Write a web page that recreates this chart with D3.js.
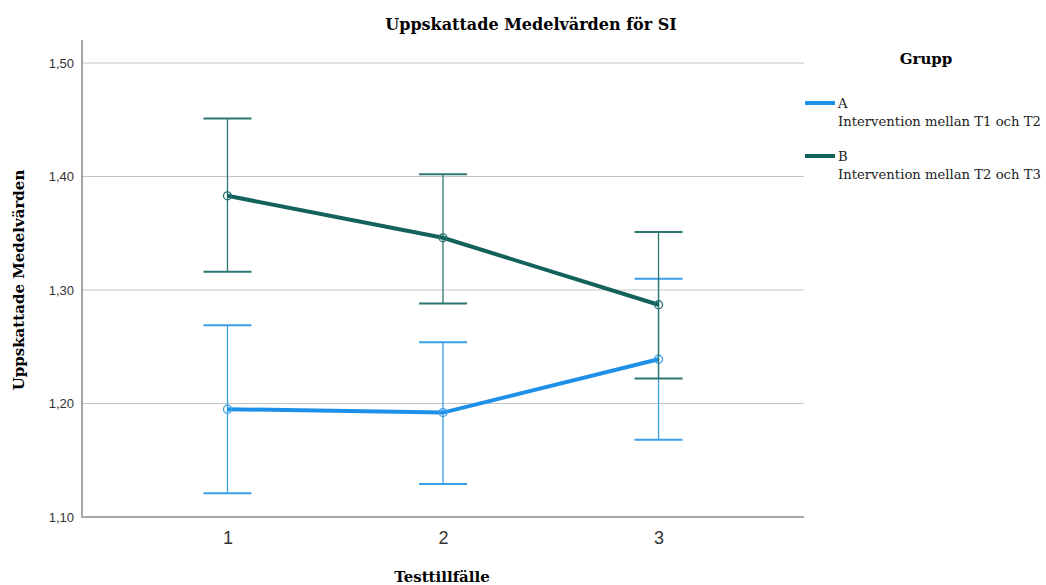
<!DOCTYPE html>
<html>
<head>
<meta charset="utf-8">
<script src="https://cdn.jsdelivr.net/npm/d3@7"></script>
<style>
  body { margin: 0; background: #fff; }
  .serif { font-family: "DejaVu Serif", "Liberation Serif", serif; }
  .tick text { font-family: "Liberation Sans", Arial, sans-serif; fill: #333; }
</style>
</head>
<body>
<div id="chart"></div>
<script>
// data
const tests = ["1", "2", "3"];
const groups = ["A", "B"];
const groupLabels = ["Intervention mellan T1 och T2", "Intervention mellan T2 och T3"];
const meanA = [1.195, 1.192, 1.239];
const lowA = [1.121, 1.129, 1.168];
const highA = [1.269, 1.254, 1.310];
const meanB = [1.383, 1.346, 1.287];
const lowB = [1.316, 1.288, 1.222];
const highB = [1.451, 1.402, 1.351];
const yTicks = [1.10, 1.20, 1.30, 1.40, 1.50];

const colors = ["#1e90e8", "#13625c"];
const barColors = ["#3a9ee8", "#2a7570"];

const width = 1046, height = 585;
const plotLeft = 82, plotRight = 804, plotTop = 40, plotBottom = 517;

const svg = d3.select("#chart").append("svg")
    .attr("width", width)
    .attr("height", height);

const x = d3.scalePoint().domain(tests).range([plotLeft, plotRight]).padding(0.675);
const y = d3.scaleLinear().domain([1.10, 1.10 + (plotBottom - plotTop) / 1135]).range([plotBottom, plotTop]);

// gridlines
svg.append("g")
    .selectAll("line")
    .data(yTicks.slice(1))
    .join("line")
    .attr("x1", plotLeft).attr("x2", plotRight)
    .attr("y1", d => y(d)).attr("y2", d => y(d))
    .attr("stroke", "#c4c4c4")
    .attr("stroke-width", 1);

// y axis
const yAxis = svg.append("g")
    .attr("transform", "translate(" + plotLeft + ",0)")
    .call(d3.axisLeft(y).tickValues(yTicks).tickSize(0).tickPadding(8)
        .tickFormat(d => d3.format(".2f")(d).replace(".", ",")));
yAxis.select(".domain").remove();
yAxis.selectAll("text").style("font-size", "13px");

// x axis
const xAxis = svg.append("g")
    .attr("transform", "translate(0," + plotBottom + ")")
    .call(d3.axisBottom(x).tickSize(0).tickPadding(14));
xAxis.select(".domain").remove();
xAxis.selectAll("text").style("font-size", "18px").attr("fill", "#555");

// axis lines
svg.append("line")
    .attr("x1", plotLeft).attr("x2", plotLeft).attr("y1", plotTop).attr("y2", plotBottom + 1)
    .attr("stroke", "#a6a6a6").attr("stroke-width", 2);
svg.append("line")
    .attr("x1", plotLeft).attr("x2", plotRight).attr("y1", plotBottom).attr("y2", plotBottom)
    .attr("stroke", "#a6a6a6").attr("stroke-width", 2);

const series = [
    { mean: meanA, low: lowA, high: highA },
    { mean: meanB, low: lowB, high: highB }
];

const line = d3.line().x((d, i) => x(tests[i])).y(d => y(d));

series.forEach((s, gi) => {
    const g = svg.append("g");
    // error bars
    tests.forEach((t, i) => {
        g.append("line")
            .attr("x1", x(t)).attr("x2", x(t))
            .attr("y1", y(s.low[i])).attr("y2", y(s.high[i]))
            .attr("stroke", barColors[gi]).attr("stroke-width", 1.3);
        [s.low[i], s.high[i]].forEach(v => {
            g.append("line")
                .attr("x1", x(t) - 24).attr("x2", x(t) + 24)
                .attr("y1", y(v)).attr("y2", y(v))
                .attr("stroke", barColors[gi]).attr("stroke-width", 2);
        });
    });
    g.append("path")
        .datum(s.mean)
        .attr("d", line)
        .attr("fill", "none")
        .attr("stroke", colors[gi])
        .attr("stroke-width", 4);
    g.selectAll("circle")
        .data(s.mean)
        .join("circle")
        .attr("cx", (d, i) => x(tests[i]))
        .attr("cy", d => y(d))
        .attr("r", 4)
        .attr("fill", "none")
        .attr("stroke", barColors[gi])
        .attr("stroke-width", 1.3);
});

// titles
svg.append("text")
    .attr("class", "serif")
    .attr("x", 531).attr("y", 30)
    .attr("text-anchor", "middle")
    .style("font-size", "16px").style("font-weight", "bold")
    .text("Uppskattade Medelvärden för SI");

svg.append("text")
    .attr("class", "serif")
    .attr("transform", "translate(24,280) rotate(-90)")
    .attr("text-anchor", "middle")
    .style("font-size", "15px").style("font-weight", "bold")
    .text("Uppskattade Medelvärden");

svg.append("text")
    .attr("class", "serif")
    .attr("x", 442).attr("y", 582)
    .attr("text-anchor", "middle")
    .style("font-size", "15px").style("font-weight", "bold")
    .text("Testtillfälle");

// legend
svg.append("text")
    .attr("class", "serif")
    .attr("x", 926).attr("y", 64)
    .attr("text-anchor", "middle")
    .style("font-size", "15px").style("font-weight", "bold")
    .text("Grupp");

groups.forEach((gName, gi) => {
    const ly = 103 + gi * 53;
    svg.append("line")
        .attr("x1", 805).attr("x2", 835)
        .attr("y1", ly).attr("y2", ly)
        .attr("stroke", colors[gi]).attr("stroke-width", 4);
    svg.append("text")
        .attr("class", "serif")
        .attr("x", 838).attr("y", ly + 5)
        .style("font-size", "13.2px").attr("fill", "#222")
        .text(gName);
    svg.append("text")
        .attr("class", "serif")
        .attr("x", 838).attr("y", ly + 23)
        .style("font-size", "13.2px").attr("fill", "#222")
        .text(groupLabels[gi]);
});
</script>
</body>
</html>
